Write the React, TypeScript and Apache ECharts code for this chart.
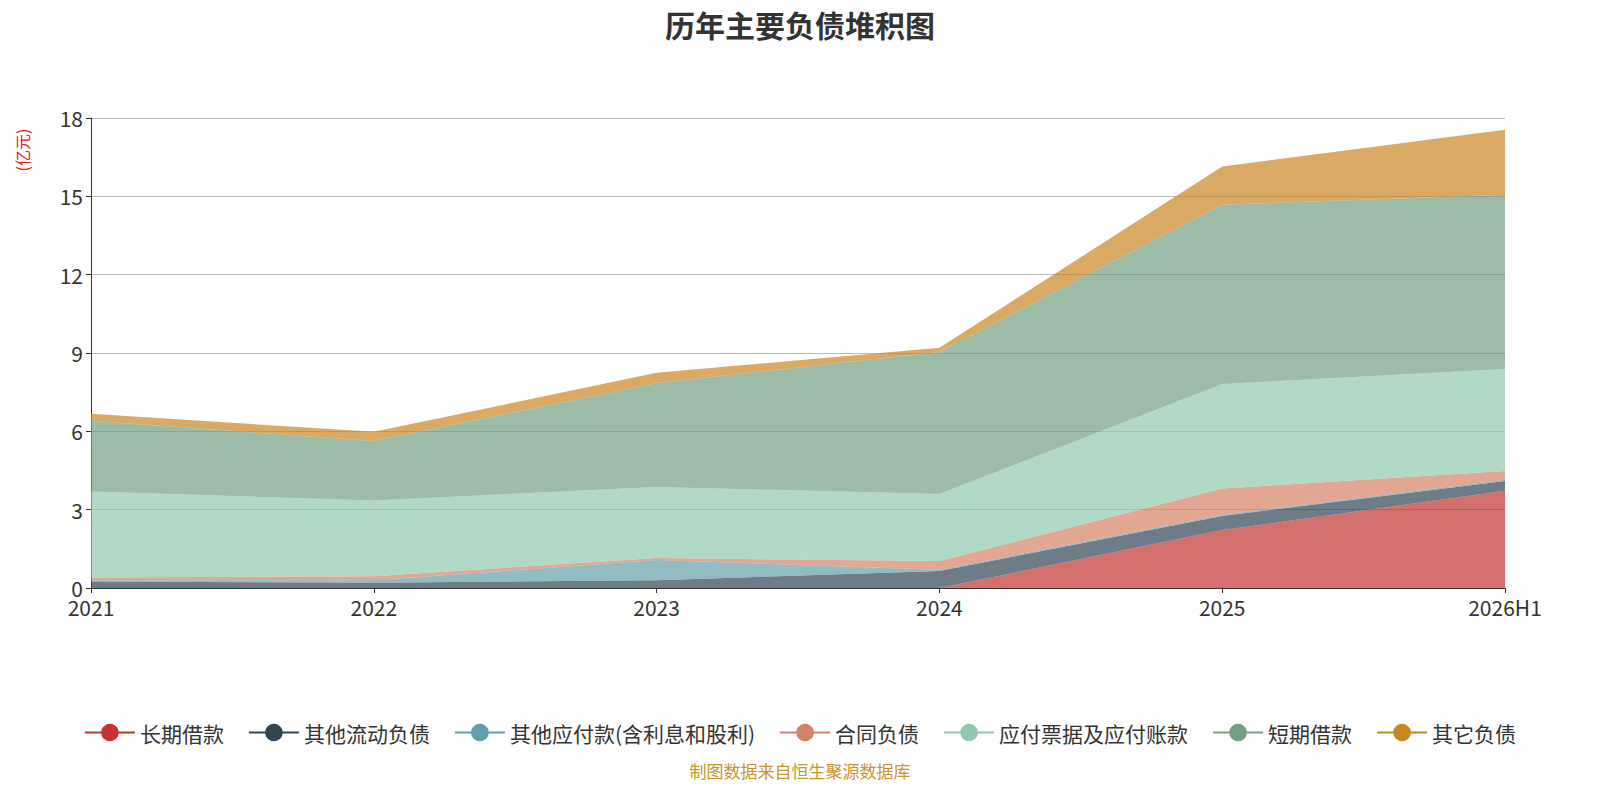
import React from 'react';
import * as echarts from 'echarts';

const years = ['2021', '2022', '2023', '2024', '2025', '2026H1'];
const seriesNames = ['长期借款', '其他流动负债', '其他应付款(含利息和股利)', '合同负债', '应付票据及应付账款', '短期借款', '其它负债'];
const longLoans = [0, 0, 0, 0, 2.22, 3.72];
const otherCurrent = [0.25, 0.2, 0.3, 0.65, 0.54, 0.38];
const otherPayables = [0.05, 0.1, 0.77, 0.05, 0.05, 0.05];
const contractLiab = [0.1, 0.15, 0.08, 0.33, 1.0, 0.33];
const billsPayable = [3.3, 2.9, 2.72, 2.57, 4.0, 3.91];
const shortLoans = [2.7, 2.28, 3.98, 5.44, 6.87, 6.67];
const otherLiab = [0.27, 0.35, 0.39, 0.16, 1.46, 2.49];
const colors = ['#c23531', '#2f4554', '#61a0a8', '#d48265', '#91c7ae', '#749f83', '#ca8622'];
const font = '"Noto Sans CJK SC", "Noto Sans", sans-serif';

const App: React.FC = () => {
  const chartRef = React.useRef<HTMLDivElement>(null);

  React.useEffect(() => {
    if (!chartRef.current) return;
    const chart = echarts.init(chartRef.current, undefined, { renderer: 'svg' });
    const values = [longLoans, otherCurrent, otherPayables, contractLiab, billsPayable, shortLoans, otherLiab];
    chart.setOption({
      animation: false,
      color: colors,
      textStyle: { fontFamily: font },
      title: {
        text: '历年主要负债堆积图',
        left: 'center',
        top: -4,
        textStyle: { fontSize: 30, fontWeight: 'bold', color: '#333', fontFamily: font },
      },
      graphic: [
        {
          type: 'text',
          left: 'center',
          top: 754,
          style: { text: '制图数据来自恒生聚源数据库', fill: '#c9952b', fontSize: 17, fontFamily: font },
        },
        {
          type: 'text',
          x: 14,
          y: 142,
          rotation: Math.PI / 2,
          style: { text: '(亿元)', fill: '#e02020', fontSize: 16, fontFamily: font, align: 'center', verticalAlign: 'middle' },
        },
      ],
      legend: {
        bottom: 44,
        left: 'center',
        itemWidth: 50,
        itemHeight: 22,
        itemGap: 24,
        textStyle: { fontSize: 21, color: '#333', fontFamily: font },
        lineStyle: { width: 2 },
        data: seriesNames,
      },
      grid: { left: 83, right: 87, top: 110, bottom: 204 },
      xAxis: {
        type: 'category',
        boundaryGap: false,
        data: years,
        axisLine: { lineStyle: { color: '#333' } },
        axisTick: { show: true },
        axisLabel: { fontSize: 21, color: '#333' },
      },
      yAxis: {
        type: 'value',
        min: 0,
        max: 18,
        interval: 3,
        axisLine: { show: true, lineStyle: { color: '#333' } },
        axisTick: { show: true },
        axisLabel: { fontSize: 21, color: '#333' },
        splitLine: { lineStyle: { color: '#bbb' } },
      },
      series: seriesNames.map((name, i) => ({
        name,
        type: 'line',
        stack: 'total',
        data: values[i],
        symbol: 'circle',
        symbolSize: 8,
        showSymbol: false,
        lineStyle: { width: 0 },
        areaStyle: { opacity: 0.7 },
        itemStyle: { color: colors[i] },
      })),
    });
    return () => chart.dispose();
  }, []);

  return <div ref={chartRef} style={{ width: 1584, height: 784 }} />;
};

export default App;
